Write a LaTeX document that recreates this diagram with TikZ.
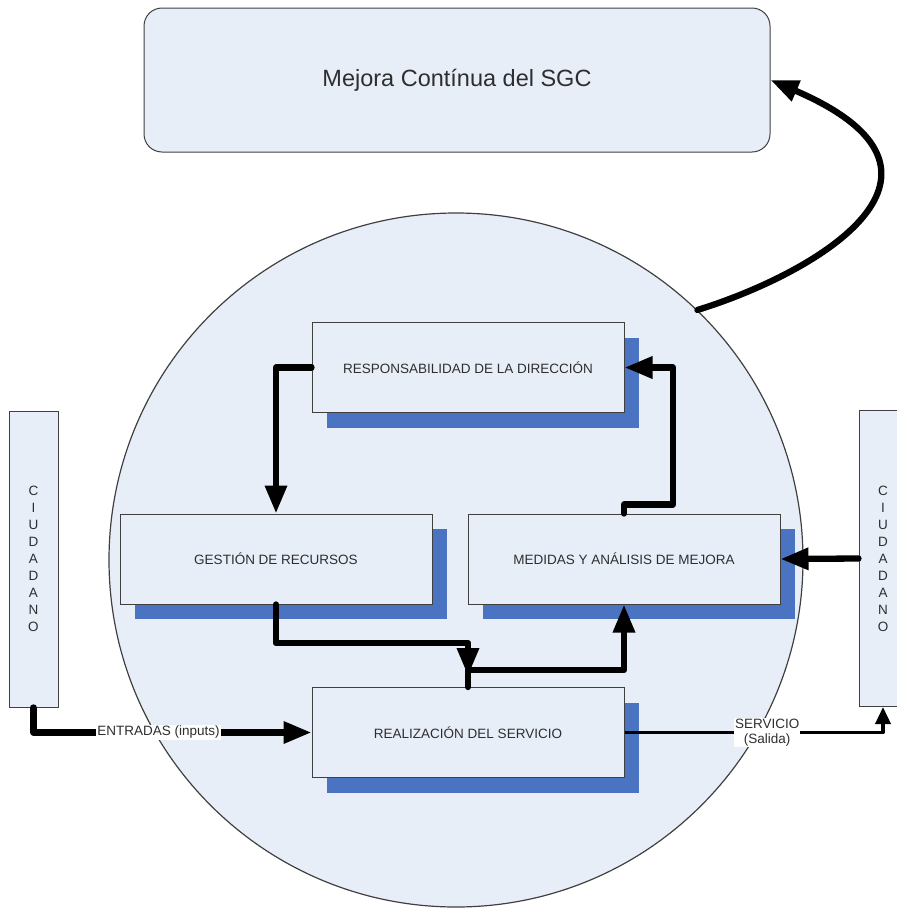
\documentclass[tikz,border=0pt]{standalone}
\usepackage{fontspec}
\setmainfont{Liberation Sans}
\usetikzlibrary{arrows.meta,shadows,calc}
\definecolor{fondo}{HTML}{E8EEF8}
\definecolor{borde}{HTML}{404040}
\definecolor{sombra}{HTML}{4A74C2}
\definecolor{texto}{HTML}{2E2E2E}
\begin{document}
\begin{tikzpicture}[x=1pt,y=-1pt,
  proceso/.style={draw=borde, line width=1pt, fill=fondo, text=texto,
    minimum width=312pt, minimum height=90pt, inner sep=0pt,
    font=\fontsize{13.5}{16}\selectfont,
    general shadow={fill=sombra, shadow xshift=15pt, shadow yshift=-15pt}},
  ciudadano/.style={draw=borde, line width=1pt, fill=fondo, text=texto,
    minimum width=49pt, minimum height=296pt, inner sep=0pt, align=center,
    font=\fontsize{13.5}{17}\selectfont},
  flujo/.style={line width=6.3pt, line cap=round, line join=round,
    -{Triangle[length=28pt,width=21pt]}},
  salida/.style={line width=3.6pt, line join=round,
    -{Triangle[length=17pt,width=15pt]}},
  etiqueta/.style={fill=white, text=texto, inner sep=1pt, align=center,
    font=\fontsize{13.5}{15}\selectfont}]
\useasboundingbox (0,0) rectangle (897,911);
\clip (0,0) rectangle (897,911);

% ciclo del sistema
\node[circle, draw=borde, line width=1.2pt, fill=fondo, minimum size=694pt,
  inner sep=0pt] (ciclo) at (456,560) {};

% mejora continua
\node[draw=borde, line width=1pt, fill=fondo, rounded corners=18pt,
  minimum width=626pt, minimum height=144pt, text=texto,
  font=\fontsize{23.5}{28}\selectfont] (mejora) at (457,80)
  {Mejora Contínua del SGC};

% ciudadanos
\node[ciudadano] (cizq) at (33.5,559) {C\\I\\U\\D\\A\\D\\A\\N\\O};
\node[ciudadano, minimum width=48pt] (cder) at (883,558.5) {C\\I\\U\\D\\A\\D\\A\\N\\O};

% procesos
\node[proceso] (resp) at (468,367.5) {RESPONSABILIDAD DE LA DIRECCIÓN};
\node[proceso] (gest) at (276,559) {GESTIÓN DE RECURSOS};
\node[proceso] (med) at (624,559) {MEDIDAS Y ANÁLISIS DE MEJORA};
\node[proceso] (real) at (468,732.5) {REALIZACIÓN DEL SERVICIO};

% flujos internos
\draw[flujo] (resp.west) -| (gest.north);
\draw[flujo] (med.north) |- ++(49,-9) |- (resp.east);
\draw[flujo, shorten >=11pt] (gest.south) |- ($(real.north)+(0,-44)$) -- (real.north);
\draw[flujo] (real.north) -- ++(0,-17) -| (med.south);
\draw[flujo] (cder.west) -- (med.east);

% entradas y salidas
\draw[flujo] (cizq.south) |- node[etiqueta, pos=0.725] {ENTRADAS (inputs)} (real.west);
\draw[salida] (real.east) -| node[etiqueta, pos=0.276] {SERVICIO\\(Salida)} (cder.south);

% mejora del sistema
\draw[flujo] (ciclo.46) .. controls (820,272) and (985,172) .. (mejora.east);
\end{tikzpicture}
\end{document}
